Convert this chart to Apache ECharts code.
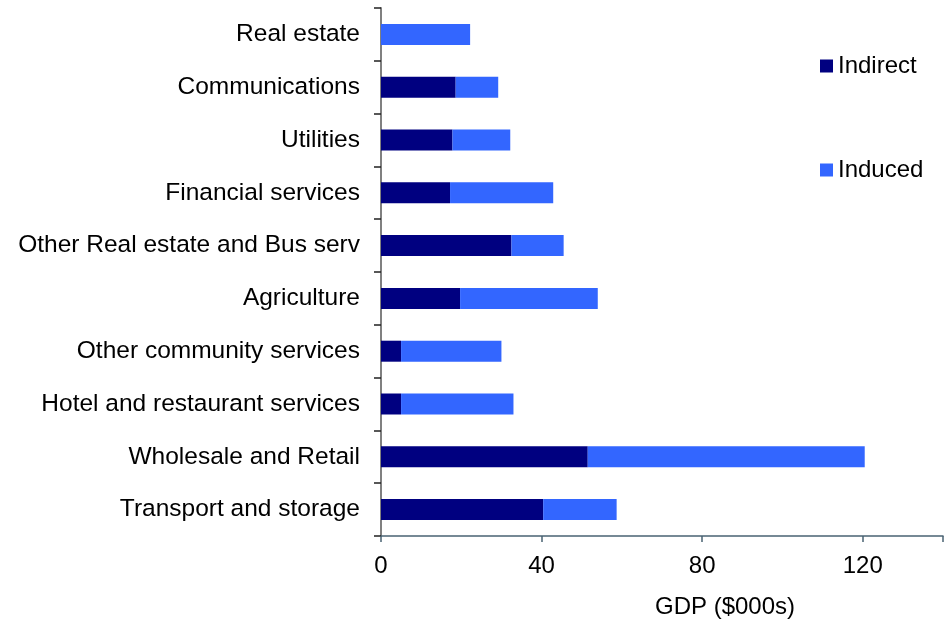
<!DOCTYPE html>
<html>
<head>
<meta charset="utf-8">
<script src="https://cdn.jsdelivr.net/npm/echarts@6/dist/echarts.min.js"></script>
<style>
  html, body { margin: 0; padding: 0; background: #fff; }
  #chart { width: 946px; height: 624px; }
</style>
</head>
<body>
<div id="chart"></div>
<script>
// Sectors, listed from top to bottom
const categories = [
  'Real estate',
  'Communications',
  'Utilities',
  'Financial services',
  'Other Real estate and Bus serv',
  'Agriculture',
  'Other community services',
  'Hotel and restaurant services',
  'Wholesale and Retail',
  'Transport and storage'
];

// GDP contributions, $000s
const indirect = [0, 18.6, 17.8, 17.2, 32.5, 19.7, 5.0, 5.0, 51.5, 40.4];
const induced  = [22.2, 10.6, 14.4, 25.7, 13.0, 34.3, 25.0, 28.0, 69.0, 18.3];

const xTicks = [0, 40, 80, 120];

const font = 'Liberation Sans, Arial, sans-serif';
const chart = echarts.init(document.getElementById('chart'));

chart.setOption({
  animation: false,
  textStyle: { fontFamily: font },
  grid: { left: 381, right: 0, top: 8, bottom: 88, containLabel: false },
  legend: {
    orient: 'vertical',
    left: 815,
    top: 49,
    itemGap: 80,
    itemWidth: 13,
    itemHeight: 13,
    icon: 'rect',
    textStyle: { fontSize: 24, color: '#000', fontFamily: font },
    data: ['Indirect', 'Induced']
  },
  xAxis: {
    type: 'value',
    min: 0,
    max: 140,
    interval: 40,
    name: 'GDP ($000s)',
    nameLocation: 'middle',
    nameGap: 59,
    nameTextStyle: { fontSize: 24, color: '#000', fontFamily: font, padding: [0, 0, 0, 126] },
    axisLine: { show: true, lineStyle: { color: '#4a6373', width: 1.5 } },
    axisTick: { show: true, length: 6, lineStyle: { color: '#4a6373', width: 1.5 } },
    axisLabel: {
      fontSize: 24,
      color: '#000',
      margin: 18,
      fontFamily: font,
      formatter: v => (xTicks.indexOf(v) >= 0 ? String(v) : '')
    },
    splitLine: { show: false }
  },
  yAxis: {
    type: 'category',
    inverse: true,
    data: categories,
    axisLine: { show: true, lineStyle: { color: '#808080', width: 2 } },
    axisTick: { show: true, length: 7, lineStyle: { color: '#222', width: 1.5 } },
    axisLabel: { fontSize: 24.5, color: '#000', margin: 21, fontFamily: font }
  },
  series: [
    {
      name: 'Indirect',
      type: 'bar',
      stack: 'gdp',
      barWidth: 21,
      itemStyle: { color: '#000080' },
      data: indirect
    },
    {
      name: 'Induced',
      type: 'bar',
      stack: 'gdp',
      barWidth: 21,
      itemStyle: { color: '#3366ff' },
      data: induced
    }
  ]
});
</script>
</body>
</html>
